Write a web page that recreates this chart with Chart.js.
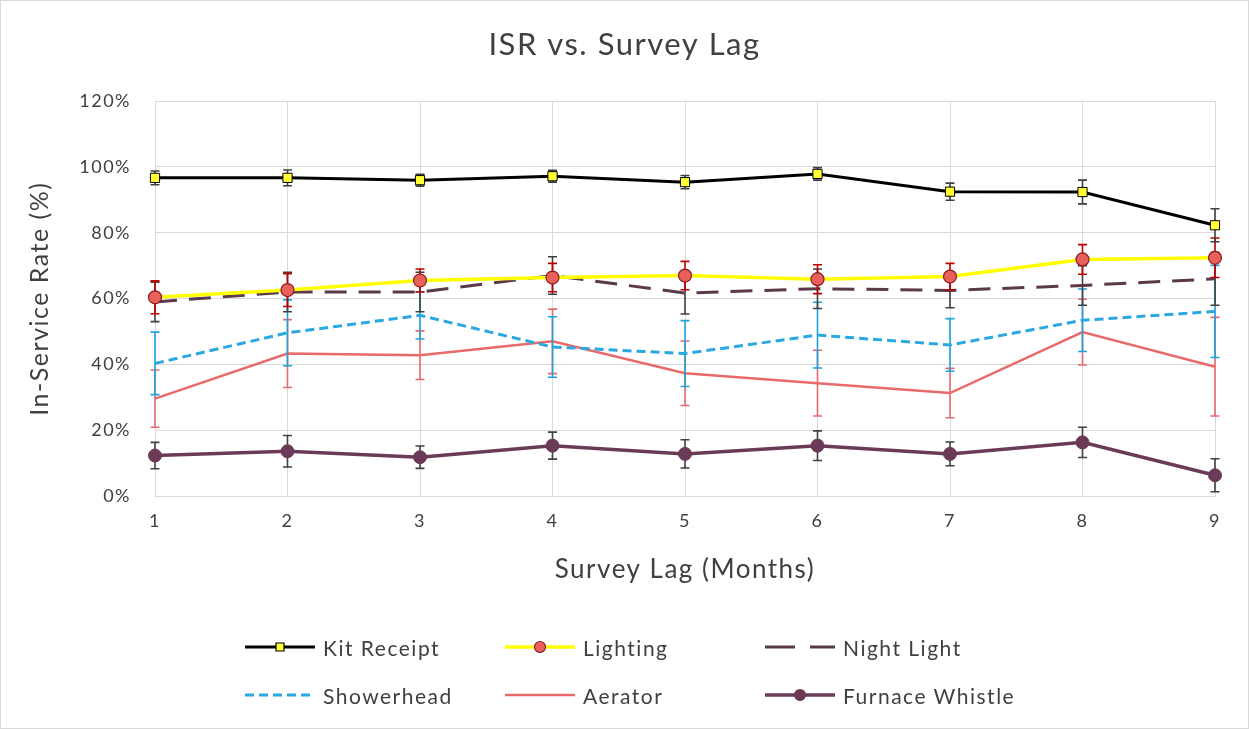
<!DOCTYPE html>
<html>
<head>
<meta charset="utf-8">
<script src="https://cdn.jsdelivr.net/npm/chart.js@4.4.1/dist/chart.umd.min.js"></script>
<style>
  body { margin: 0; background: #fff; font-family: Lato, sans-serif; }
  #wrap { position: relative; width: 1249px; height: 729px; }
  #frame { position: absolute; left: 0; top: 0; width: 1247px; height: 727px; border: 1px solid #d9d9d9; pointer-events: none; }
  #legend { position: absolute; left: 245px; top: 633px; display: grid; grid-template-columns: 260px 260px 260px; row-gap: 20px; }
  .item { display: flex; align-items: center; height: 28px; font-size: 21px; letter-spacing: 1.5px; color: #404040; }
  .item canvas { margin-right: 8px; }
</style>
</head>
<body>
<div id="wrap">
  <canvas id="chart" width="1249" height="729"></canvas>
  <div id="legend"></div>
  <div id="frame"></div>
</div>
<script>
const months = ["1", "2", "3", "4", "5", "6", "7", "8", "9"];

const kitReceipt = [96.7, 96.7, 96.0, 97.2, 95.4, 97.9, 92.5, 92.4, 82.3];
const kitReceiptErr = [2.1, 2.4, 1.8, 1.8, 2.0, 1.9, 2.6, 3.6, 5.0];
const lighting = [60.4, 62.6, 65.5, 66.4, 67.0, 65.9, 66.7, 71.9, 72.4];
const lightingErr = [5.0, 5.0, 3.5, 4.3, 4.3, 4.4, 4.0, 4.5, 6.0];
const nightLight = [59.0, 62.0, 62.0, 67.0, 61.7, 63.0, 62.5, 64.0, 66.0];
const nightLightErr = [6.0, 6.0, 6.0, 5.7, 6.4, 6.0, 5.3, 6.0, 8.0];
const showerhead = [40.3, 49.6, 54.9, 45.3, 43.3, 48.9, 45.9, 53.4, 56.1];
const showerheadErr = [9.5, 10.0, 7.2, 9.2, 10.0, 10.0, 8.0, 9.5, 14.0];
const aerator = [29.6, 43.3, 42.8, 47.0, 37.3, 34.3, 31.3, 49.8, 39.3];
const aeratorErr = [8.7, 10.3, 7.4, 9.8, 9.8, 10.0, 7.5, 10.0, 15.0];
const furnaceWhistle = [12.3, 13.6, 11.8, 15.3, 12.8, 15.3, 12.8, 16.3, 6.3];
const furnaceWhistleErr = [4.0, 4.8, 3.4, 4.1, 4.3, 4.5, 3.6, 4.6, 5.0];

const yTicks = [0, 20, 40, 60, 80, 100, 120];

// the picture's text is wide and airy, so space the letters a bit
const letterSpace = {
  id: "letterSpace",
  beforeUpdate(chart) { chart.ctx.letterSpacing = "1.5px"; },
  beforeDraw(chart) { chart.ctx.letterSpacing = "1.5px"; },
};

// error bars drawn under each series, using the y scale
const errorBars = {
  id: "errorBars",
  beforeDatasetDraw(chart, args) {
    const ds = chart.data.datasets[args.index];
    if (!ds.errors) return;
    const ctx = chart.ctx;
    const y = chart.scales.y;
    ctx.save();
    ctx.strokeStyle = ds.errorColor;
    ctx.lineWidth = 1.6;
    args.meta.data.forEach((pt, i) => {
      const top = y.getPixelForValue(ds.data[i] + ds.errors[i]);
      const bot = y.getPixelForValue(ds.data[i] - ds.errors[i]);
      ctx.beginPath();
      ctx.moveTo(pt.x, top);
      ctx.lineTo(pt.x, bot);
      ctx.moveTo(pt.x - 4.5, top);
      ctx.lineTo(pt.x + 4.5, top);
      ctx.moveTo(pt.x - 4.5, bot);
      ctx.lineTo(pt.x + 4.5, bot);
      ctx.stroke();
    });
    ctx.restore();
  },
};

const chart = new Chart(document.getElementById("chart"), {
  type: "line",
  data: {
    labels: months,
    datasets: [
      {
        label: "Kit Receipt",
        data: kitReceipt,
        errors: kitReceiptErr,
        errorColor: "#404040",
        borderColor: "#000000",
        borderWidth: 3,
        pointStyle: "rect",
        pointRadius: 6.5,
        pointBackgroundColor: "#ffff33",
        pointBorderColor: "#000000",
        pointBorderWidth: 1,
      },
      {
        label: "Lighting",
        data: lighting,
        errors: lightingErr,
        errorColor: "#c00000",
        borderColor: "#ffff00",
        borderWidth: 3.5,
        pointStyle: "circle",
        pointRadius: 6.5,
        pointBackgroundColor: "#e8605a",
        pointBorderColor: "#8b1a1a",
        pointBorderWidth: 1.2,
      },
      {
        label: "Night Light",
        data: nightLight,
        errors: nightLightErr,
        errorColor: "#404040",
        borderColor: "#5a3a4a",
        borderWidth: 3,
        borderDash: [22, 12],
        pointRadius: 0,
      },
      {
        label: "Showerhead",
        data: showerhead,
        errors: showerheadErr,
        errorColor: "#1ca3de",
        borderColor: "#2ba8e0",
        borderWidth: 3,
        borderDash: [9, 5],
        pointRadius: 0,
      },
      {
        label: "Aerator",
        data: aerator,
        errors: aeratorErr,
        errorColor: "#e8696b",
        borderColor: "#e96a6a",
        borderWidth: 2.5,
        pointRadius: 0,
      },
      {
        label: "Furnace Whistle",
        data: furnaceWhistle,
        errors: furnaceWhistleErr,
        errorColor: "#404040",
        borderColor: "#6b3a56",
        borderWidth: 3.5,
        pointStyle: "circle",
        pointRadius: 6.5,
        pointBackgroundColor: "#6b3a56",
        pointBorderColor: "#6b3a56",
        pointBorderWidth: 1,
      },
    ].map((d) => ({ ...d, fill: false, tension: 0, clip: false, pointHoverRadius: d.pointRadius })),
  },
  options: {
    responsive: false,
    animation: false,
    layout: { padding: { left: 34, right: 34, top: 0, bottom: 143 } },
    plugins: {
      legend: { display: false },
      tooltip: { enabled: false },
      title: {
        display: true,
        text: "ISR vs. Survey Lag",
        color: "#404040",
        font: { family: "Lato", size: 31, weight: "normal" },
        padding: { top: 26, bottom: 38 },
      },
    },
    scales: {
      x: {
        type: "category",
        offset: false,
        grid: { color: "#d9d9d9", drawTicks: false },
        border: { color: "#d9d9d9" },
        ticks: { color: "#404040", font: { family: "Lato", size: 18 }, padding: 14, maxRotation: 0 },
        title: {
          display: true,
          text: "Survey Lag (Months)",
          color: "#404040",
          font: { family: "Lato", size: 26 },
          padding: { top: 4, bottom: 1 },
        },
        afterFit(scale) { scale.height = 90; },
      },
      y: {
        min: 0,
        max: 120,
        afterBuildTicks(scale) { scale.ticks = yTicks.map((v) => ({ value: v })); },
        grid: { color: "#d9d9d9", drawTicks: false },
        border: { color: "#d9d9d9" },
        ticks: { color: "#404040", font: { family: "Lato", size: 18 }, padding: 24, callback: (v) => v + "%" },
        title: {
          display: true,
          text: "In-Service Rate (%)",
          color: "#404040",
          font: { family: "Lato", size: 25 },
          padding: { top: -9, bottom: 0 },
        },
        afterFit(scale) { scale.width = 121; },
      },
    },
  },
  plugins: [letterSpace, errorBars],
});

// legend: 3 columns, samples drawn from each dataset's own style
const legendEl = document.getElementById("legend");
chart.data.datasets.forEach((ds) => {
  const item = document.createElement("div");
  item.className = "item";
  const c = document.createElement("canvas");
  c.width = 70;
  c.height = 24;
  const g = c.getContext("2d");
  g.strokeStyle = ds.borderColor;
  g.lineWidth = ds.borderWidth;
  if (ds.label === "Night Light") g.setLineDash([30, 15]);
  else if (ds.borderDash) g.setLineDash(ds.borderDash);
  g.beginPath();
  g.moveTo(0, 12);
  g.lineTo(70, 12);
  g.stroke();
  g.setLineDash([]);
  if (ds.pointRadius > 0) {
    g.fillStyle = ds.pointBackgroundColor;
    g.strokeStyle = ds.pointBorderColor;
    g.lineWidth = 1.2;
    g.beginPath();
    if (ds.pointStyle === "rect") g.rect(31, 8, 8, 8);
    else g.arc(35, 12, 5.5, 0, Math.PI * 2);
    g.fill();
    g.stroke();
  }
  const span = document.createElement("span");
  span.textContent = ds.label;
  item.appendChild(c);
  item.appendChild(span);
  legendEl.appendChild(item);
});
</script>
</body>
</html>
